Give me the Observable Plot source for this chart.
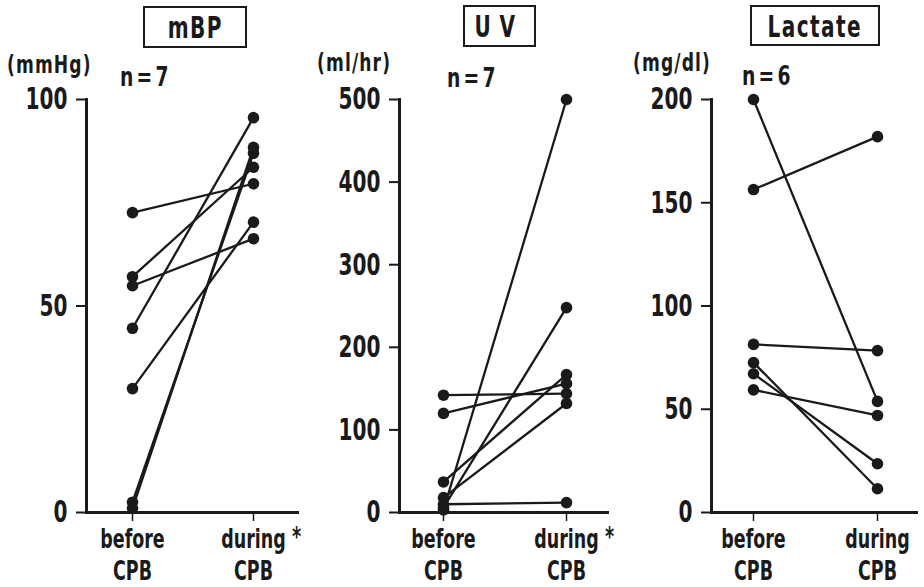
<!DOCTYPE html>
<html>
<head>
<meta charset="utf-8">
<script src="https://cdn.jsdelivr.net/npm/d3@7"></script>
<script src="https://cdn.jsdelivr.net/npm/@observablehq/plot@0.6"></script>
<style>
  html, body { margin: 0; padding: 0; background: #fff; }
  #fig { position: relative; width: 924px; height: 587px; overflow: hidden; background: #fff;
         font-family: "Liberation Sans Narrow", "DejaVu Sans Condensed", "Roboto Condensed", sans-serif; color: #1a1a1a; }
  .pan { position: absolute; top: 0; }
  .unit, .n { position: absolute; white-space: nowrap; font-weight: bold; transform-origin: left center; }
  .unit { font-size: 25px; line-height: 25px; letter-spacing: 1.5px; transform: scaleX(0.76); }
  .n { font-size: 26px; line-height: 26px; letter-spacing: 4px; transform: scaleX(0.8); }
  .box { position: absolute; box-sizing: border-box; border: 2px solid #1a1a1a; display: flex;
         align-items: center; justify-content: center; font-weight: bold; font-size: 31px; }
  .box span { display: inline-block; transform: scaleX(0.72); transform-origin: center center; white-space: nowrap; }
</style>
</head>
<body>
<div id="fig"></div>
<script>
// ---- data ----
const phases = ["before", "during"];
const mbpBefore = [72.6, 57.1, 54.9, 44.6, 30.0, 2.5, 1.0];
const mbpDuring = [79.6, 83.6, 66.3, 95.6, 70.3, 87.0, 88.4];
const uvBefore = [142, 120, 37, 18, 3, 6, 10];
const uvDuring = [144, 156, 167, 132, 500, 248, 12];
const lacBefore = [200, 156.4, 81.4, 72.6, 67.2, 59.4];
const lacDuring = [53.8, 182, 78.4, 11.5, 23.6, 47];
const mbpTicks = [0, 50, 100];
const uvTicks = [0, 100, 200, 300, 400, 500];
const lacTicks = [0, 50, 100, 150, 200];
const titles = ["mBP", "UV", "Lactate"];
const units = ["(mmHg)", "(ml/hr)", "(mg/dl)"];
const nLabels = ["n=7", "n=7", "n=6"];
const xTickLabels = {before: "before\nCPB", during: "during\nCPB"};
const starred = [true, true, false];

const FONT = '"Liberation Sans Narrow", "DejaVu Sans Condensed", "Roboto Condensed", sans-serif';
const INK = "#1a1a1a";

function rowsOf(b, d) {
  const rows = [];
  b.forEach((v, i) => {
    rows.push({id: i, phase: phases[0], v});
    rows.push({id: i, phase: phases[1], v: d[i]});
  });
  return rows;
}

function panel(cfg) {
  const rows = rowsOf(cfg.before, cfg.during);
  const marks = [
    Plot.frame({anchor: "left", stroke: INK, strokeWidth: 3}),
    Plot.ruleY([0], {stroke: INK, strokeWidth: 3}),
    Plot.axisY({ticks: cfg.ticks, tickSize: 10, tickPadding: 9, fontSize: 31, fontWeight: "bold",
                stroke: INK, strokeWidth: 2, fill: INK, label: null}),
    Plot.axisX({tickSize: 9, tickPadding: 4, fontSize: 27, lineHeight: 1.18, fontWeight: "bold", fill: INK, stroke: INK,
                strokeWidth: 1.5, tickFormat: d => xTickLabels[d], label: null}),
    Plot.line(rows, {x: "phase", y: "v", z: "id", stroke: INK, strokeWidth: 2.3}),
    Plot.dot(rows, {x: "phase", y: "v", r: 5.8, fill: INK, stroke: "none"})
  ];
  if (cfg.star) {
    marks.push(Plot.text(["*"], {x: () => phases[1], y: () => cfg.domain[0], dx: 43, dy: 25,
      fontSize: 27, fontWeight: "bold", fill: INK}));
  }
  const svg = Plot.plot({
    width: 308, height: 587,
    marginTop: 99, marginBottom: 75, marginLeft: cfg.ml, marginRight: cfg.mr,
    style: {background: "transparent", overflow: "visible", fontFamily: FONT, color: INK},
    x: {type: "point", domain: phases, padding: cfg.pad, label: null},
    y: {domain: cfg.domain, label: null},
    marks
  });
  // condense glyphs horizontally around each text's anchor (narrow typeface look)
  svg.querySelectorAll("text").forEach(t => {
    const tr = t.getAttribute("transform") || "";
    t.setAttribute("transform", (tr + " scale(0.72,1)").trim());
  });
  return svg;
}

const fig = document.getElementById("fig");
const cfgs = [
  {before: mbpBefore, during: mbpDuring, ticks: mbpTicks, domain: [0, 100], ml: 86, mr: 9, pad: 0.38, left: 0, star: starred[0]},
  {before: uvBefore, during: uvDuring, ticks: uvTicks, domain: [0, 500], ml: 91, mr: 7, pad: 0.347, left: 308, star: starred[1]},
  {before: lacBefore, during: lacDuring, ticks: lacTicks, domain: [0, 200], ml: 95, mr: 6, pad: 0.328, left: 616, star: starred[2]}
];
cfgs.forEach(cfg => {
  const svg = panel(cfg);
  svg.classList.add("pan");
  svg.style.left = cfg.left + "px";
  fig.appendChild(svg);
});

// headers
const boxPos = [[143, 6, 104, 42, 2], [463, 5, 73, 42, 12], [750, 5, 130, 41, 2]];
const unitPos = [[7, 52], [317, 50], [633, 50]];
const nPos = [[120, 64], [447, 65], [742, 63]];
titles.forEach((t, i) => {
  const b = document.createElement("div");
  b.className = "box";
  const [l, tp, w, h, ls] = boxPos[i];
  Object.assign(b.style, {left: l + "px", top: tp + "px", width: w + "px", height: h + "px"});
  const s = document.createElement("span");
  s.style.letterSpacing = ls + "px";
  s.textContent = t;
  b.appendChild(s);
  fig.appendChild(b);
  const u = document.createElement("div");
  u.className = "unit";
  Object.assign(u.style, {left: unitPos[i][0] + "px", top: unitPos[i][1] + "px"});
  u.textContent = units[i];
  fig.appendChild(u);
  const n = document.createElement("div");
  n.className = "n";
  Object.assign(n.style, {left: nPos[i][0] + "px", top: nPos[i][1] + "px"});
  n.textContent = nLabels[i];
  fig.appendChild(n);
});
</script>
</body>
</html>
